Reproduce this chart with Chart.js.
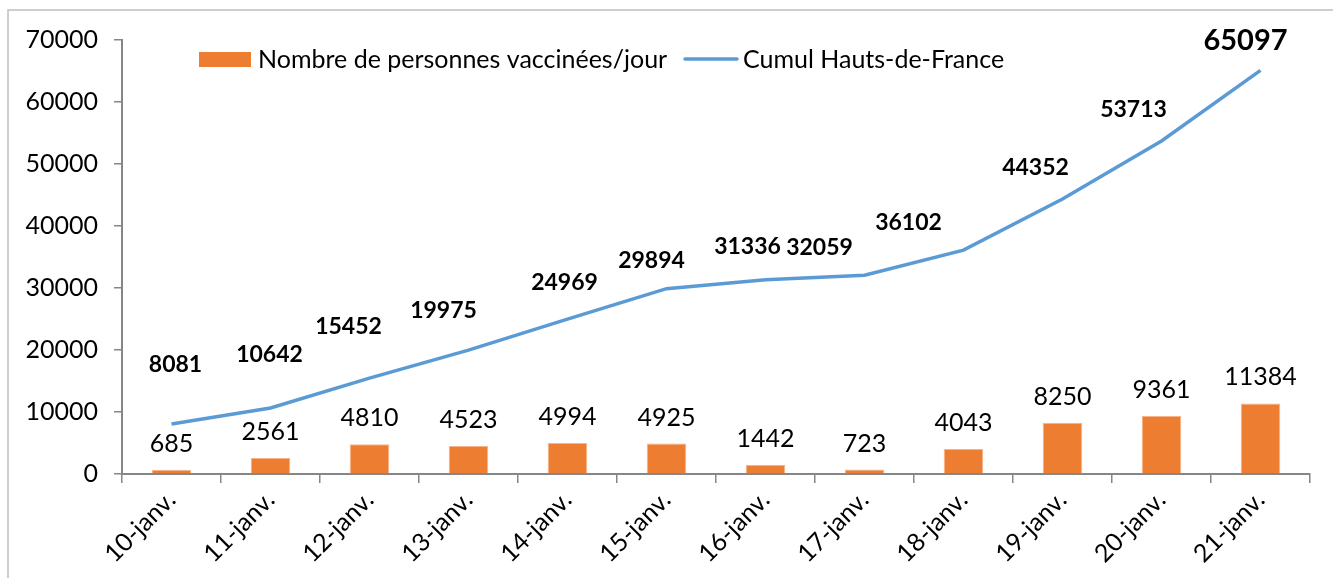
<!DOCTYPE html>
<html>
<head>
<meta charset="utf-8">
<script src="https://cdn.jsdelivr.net/npm/chart.js@4/dist/chart.umd.min.js"></script>
<style>
  html, body { margin: 0; padding: 0; background: #fff; }
  #wrap { width: 1333px; height: 578px; position: relative; }
</style>
</head>
<body>
<div id="wrap"><canvas id="chart"></canvas></div>
<script>
const days = ['10-janv.', '11-janv.', '12-janv.', '13-janv.', '14-janv.', '15-janv.',
  '16-janv.', '17-janv.', '18-janv.', '19-janv.', '20-janv.', '21-janv.'];
const vaccinesPerDay = [685, 2561, 4810, 4523, 4994, 4925, 1442, 723, 4043, 8250, 9361, 11384];
const cumulHDF = [8081, 10642, 15452, 19975, 24969, 29894, 31336, 32059, 36102, 44352, 53713, 65097];
const yTicks = [0, 10000, 20000, 30000, 40000, 50000, 60000, 70000];

const FONT = 'Lato, "Open Sans", sans-serif';
const ORANGE = '#ED7D31';
const BLUE = '#5B9BD5';
const AXIS = '#868686';

// hand-placed label nudges for the cumul line (dx, dy from the point)
const cumulLabelShift = [[4, -59], [-1, -53], [-21, -52], [-25, -40], [-3, -37], [-15, -28],
  [-18, -33], [-45, -28], [-55, -28], [-27, -31], [-28, -31], [-15, -30]];

const decoPlugin = {
  id: 'deco',
  beforeDraw(chart) {
    const ctx = chart.ctx;
    ctx.save();
    ctx.strokeStyle = '#bfbfbf';
    ctx.lineWidth = 1.5;
    ctx.beginPath();
    ctx.moveTo(8, 578);
    ctx.lineTo(8, 10);
    ctx.lineTo(1333, 10);
    ctx.stroke();
    ctx.restore();
  },
  afterDatasetsDraw(chart) {
    const ctx = chart.ctx;
    ctx.save();
    ctx.fillStyle = '#000';
    ctx.textAlign = 'center';
    ctx.textBaseline = 'middle';

    // bar values
    ctx.font = '25px ' + FONT;
    chart.getDatasetMeta(0).data.forEach((bar, i) => {
      ctx.fillText(String(vaccinesPerDay[i]), bar.x, bar.y - 26);
    });

    // cumul values
    chart.getDatasetMeta(1).data.forEach((pt, i) => {
      const last = i === cumulHDF.length - 1;
      ctx.font = 'bold ' + (last ? 29 : 23) + 'px ' + FONT;
      const [dx, dy] = cumulLabelShift[i];
      ctx.fillText(String(cumulHDF[i]), pt.x + dx, pt.y + dy);
    });

    // legend
    ctx.textAlign = 'left';
    ctx.font = '25px ' + FONT;
    ctx.fillStyle = ORANGE;
    ctx.fillRect(199, 52, 52, 15);
    ctx.fillStyle = '#000';
    ctx.fillText(chart.data.datasets[0].label, 258, 60);
    ctx.strokeStyle = BLUE;
    ctx.lineWidth = 3.5;
    ctx.lineCap = 'round';
    ctx.beginPath();
    ctx.moveTo(685, 59);
    ctx.lineTo(737, 59);
    ctx.stroke();
    ctx.fillText(chart.data.datasets[1].label, 743, 60);
    ctx.restore();
  }
};

new Chart(document.getElementById('chart'), {
  data: {
    labels: days,
    datasets: [
      {
        type: 'bar',
        label: 'Nombre de personnes vaccinées/jour',
        data: vaccinesPerDay,
        backgroundColor: ORANGE,
        borderColor: '#F6B48A',
        borderWidth: 1,
        barPercentage: 0.4,
        categoryPercentage: 1,
        order: 2
      },
      {
        type: 'line',
        label: 'Cumul Hauts-de-France',
        data: cumulHDF,
        borderColor: BLUE,
        borderWidth: 3.5,
        pointRadius: 0,
        tension: 0,
        order: 1
      }
    ]
  },
  options: {
    responsive: true,
    maintainAspectRatio: false,
    animation: false,
    layout: { padding: { left: 0, top: 40, right: 23, bottom: 0 } },
    plugins: {
      legend: { display: false },
      tooltip: { enabled: false }
    },
    scales: {
      x: {
        offset: true,
        grid: {
          offset: true,
          drawOnChartArea: false,
          drawTicks: true,
          tickLength: 9,
          color: AXIS,
          lineWidth: 1.5
        },
        border: { color: AXIS, width: 2 },
        ticks: {
          color: '#000',
          font: { family: FONT, size: 25 },
          maxRotation: 45,
          minRotation: 45,
          autoSkip: false,
          padding: 2
        },
        afterFit(scale) { scale.height = 104; }
      },
      y: {
        min: 0,
        max: 70000,
        afterBuildTicks(scale) { scale.ticks = yTicks.map(v => ({ value: v })); },
        grid: {
          drawOnChartArea: false,
          drawTicks: true,
          tickLength: 8,
          color: AXIS,
          lineWidth: 1.5
        },
        border: { color: AXIS, width: 2 },
        ticks: {
          color: '#000',
          font: { family: FONT, size: 25 },
          padding: 16,
          callback: v => String(v)
        },
        afterFit(scale) { scale.width = 122; }
      }
    }
  },
  plugins: [decoPlugin]
});
</script>
</body>
</html>
